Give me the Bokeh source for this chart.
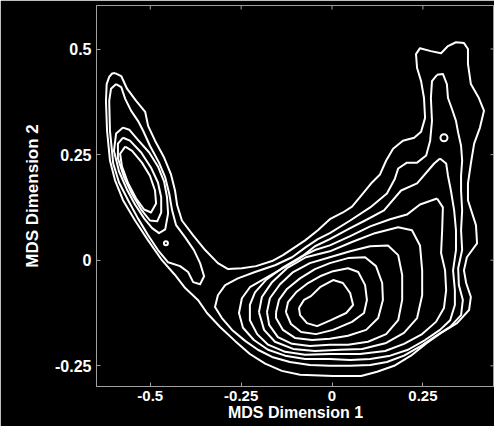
from bokeh.plotting import figure
from bokeh.models import FixedTicker
from bokeh.embed import file_html
from bokeh.resources import INLINE

# ---- data: contour lines (MDS dim 1, MDS dim 2) ----
outer_u = [(-0.597,0.443),(-0.580,0.436),(-0.564,0.406),(-0.539,0.377),(-0.514,0.351),(-0.506,0.318),
    (-0.487,0.283),(-0.462,0.243),(-0.443,0.203),(-0.432,0.165),(-0.426,0.130),(-0.413,0.094),(-0.382,0.059),
    (-0.349,0.024),(-0.314,-0.007),(-0.286,-0.021),(-0.248,-0.019),(-0.209,-0.014),(-0.165,-0.002),(-0.135,0.012),
    (-0.107,0.028),(-0.074,0.047),(-0.039,0.071),(-0.006,0.097),(0.030,0.113),(0.055,0.127),(0.083,0.156),
    (0.110,0.184),(0.132,0.203),(0.149,0.236),(0.168,0.264),(0.195,0.283),(0.226,0.290),(0.245,0.304),
    (0.256,0.337),(0.253,0.384),(0.245,0.424),(0.234,0.455),(0.231,0.488),(0.242,0.502),(0.272,0.495),
    (0.300,0.490),(0.319,0.507),(0.341,0.516),(0.363,0.514),(0.374,0.500),(0.374,0.465),(0.382,0.417),
    (0.404,0.384),(0.418,0.354),(0.407,0.314),(0.391,0.276),(0.382,0.229),(0.374,0.182),(0.374,0.142),
    (0.396,0.083),(0.399,0.040),(0.371,0.007),(0.363,-0.024),(0.369,-0.054),(0.382,-0.087),(0.377,-0.118),
    (0.344,-0.149),(0.300,-0.172),(0.261,-0.196),(0.217,-0.226),(0.171,-0.250),(0.124,-0.264),(0.080,-0.274),
    (0.003,-0.274),(-0.088,-0.271),(-0.138,-0.262),(-0.184,-0.245),(-0.226,-0.222),(-0.267,-0.191),
    (-0.308,-0.158),(-0.344,-0.125),(-0.369,-0.094),(-0.404,-0.066),(-0.432,-0.035),(-0.468,0.000),
    (-0.506,0.047),(-0.542,0.094),(-0.575,0.142),(-0.597,0.189),(-0.611,0.236),(-0.619,0.307),(-0.622,0.377),
    (-0.620,0.417),(-0.613,0.434),(-0.605,0.442),(-0.597,0.443)]

lobe_2 = [(-0.594,0.417),(-0.580,0.410),(-0.569,0.382),(-0.553,0.354),(-0.534,0.330),(-0.520,0.307),
    (-0.501,0.271),(-0.476,0.231),(-0.459,0.196),(-0.448,0.158),(-0.440,0.118),(-0.429,0.083),(-0.404,0.054),
    (-0.380,0.024),(-0.363,-0.007),(-0.352,-0.038),(-0.363,-0.057),(-0.382,-0.052),(-0.396,-0.028),
    (-0.418,-0.014),(-0.451,-0.005),(-0.479,0.024),(-0.506,0.059),(-0.534,0.099),(-0.561,0.142),(-0.586,0.184),
    (-0.602,0.229),(-0.611,0.307),(-0.613,0.377),(-0.608,0.406),(-0.594,0.417)]

lobe_3 = [(-0.575,0.314),(-0.558,0.309),(-0.534,0.285),(-0.503,0.255),(-0.479,0.222),(-0.462,0.186),
    (-0.454,0.149),(-0.451,0.111),(-0.459,0.073),(-0.476,0.064),(-0.495,0.076),(-0.517,0.099),(-0.542,0.132),
    (-0.564,0.167),(-0.586,0.210),(-0.600,0.259),(-0.594,0.300),(-0.575,0.314)]

lobe_4 = [(-0.575,0.290),(-0.556,0.283),(-0.525,0.255),(-0.498,0.219),(-0.479,0.184),(-0.470,0.149),
    (-0.470,0.113),(-0.481,0.092),(-0.501,0.094),(-0.525,0.120),(-0.550,0.156),(-0.572,0.196),(-0.589,0.241),
    (-0.589,0.276),(-0.575,0.290)]

lobe_5 = [(-0.569,0.269),(-0.550,0.259),(-0.523,0.231),(-0.501,0.200),(-0.487,0.165),(-0.484,0.134),
    (-0.498,0.113),(-0.517,0.120),(-0.539,0.146),(-0.561,0.182),(-0.578,0.222),(-0.583,0.252),(-0.569,0.269)]

body_1 = [(0.289,0.439),(0.305,0.441),(0.316,0.417),(0.319,0.384),(0.330,0.358),(0.341,0.330),(0.347,0.302),
    (0.355,0.271),(0.358,0.236),(0.355,0.200),(0.355,0.165),(0.358,0.118),(0.355,0.071),(0.358,0.024),
    (0.347,-0.019),(0.349,-0.059),(0.360,-0.094),(0.355,-0.130),(0.325,-0.158),(0.286,-0.179),(0.245,-0.203),
    (0.198,-0.226),(0.151,-0.241),(0.105,-0.248),(0.050,-0.250),(-0.006,-0.250),(-0.061,-0.248),(-0.116,-0.241),
    (-0.165,-0.229),(-0.204,-0.212),(-0.239,-0.191),(-0.275,-0.165),(-0.303,-0.137),(-0.322,-0.111),
    (-0.314,-0.083),(-0.294,-0.059),(-0.259,-0.043),(-0.212,-0.028),(-0.157,-0.012),(-0.110,0.007),
    (-0.072,0.031),(-0.039,0.050),(-0.006,0.064),(0.050,0.094),(0.105,0.125),(0.151,0.158),(0.173,0.193),
    (0.182,0.217),(0.206,0.231),(0.234,0.231),(0.259,0.248),(0.270,0.283),(0.275,0.330),(0.272,0.384),
    (0.275,0.424),(0.289,0.439)]

body_2 = [(0.297,0.241),(0.314,0.229),(0.319,0.200),(0.327,0.165),(0.336,0.118),(0.341,0.071),(0.341,0.024),
    (0.333,-0.024),(0.338,-0.071),(0.338,-0.106),(0.325,-0.142),(0.297,-0.165),(0.256,-0.189),(0.209,-0.212),
    (0.160,-0.226),(0.105,-0.234),(0.050,-0.236),(-0.006,-0.234),(-0.074,-0.234),(-0.129,-0.226),
    (-0.176,-0.212),(-0.215,-0.189),(-0.245,-0.160),(-0.256,-0.125),(-0.248,-0.090),(-0.226,-0.064),
    (-0.184,-0.043),(-0.135,-0.019),(-0.088,0.005),(-0.047,0.033),(-0.006,0.050),(0.050,0.076),(0.091,0.094),
    (0.143,0.118),(0.190,0.165),(0.234,0.182),(0.281,0.229),(0.297,0.241)]

body_3 = [(0.289,0.146),(0.305,0.125),(0.303,0.071),(0.300,0.017),(0.311,-0.024),(0.314,-0.071),
    (0.308,-0.113),(0.286,-0.146),(0.248,-0.175),(0.198,-0.198),(0.146,-0.215),(0.077,-0.222),(-0.006,-0.222),
    (-0.074,-0.224),(-0.129,-0.217),(-0.176,-0.200),(-0.206,-0.175),(-0.226,-0.142),(-0.226,-0.106),
    (-0.212,-0.076),(-0.182,-0.047),(-0.138,-0.019),(-0.088,0.007),(-0.047,0.024),(-0.006,0.035),
    (0.050,0.057),(0.105,0.080),(0.160,0.097),(0.206,0.108),(0.242,0.132),(0.289,0.146)]

body_4 = [(-0.201,-0.123),(-0.193,-0.087),(-0.165,-0.052),(-0.124,-0.019),(-0.072,0.007),(-0.006,0.021),
    (0.055,0.043),(0.118,0.064),(0.182,0.078),(0.220,0.071),(0.242,0.035),(0.248,-0.024),(0.248,-0.083),
    (0.234,-0.137),(0.198,-0.172),(0.149,-0.196),(0.083,-0.210),(0.022,-0.212),(-0.047,-0.215),
    (-0.107,-0.210),(-0.157,-0.193),(-0.187,-0.165),(-0.201,-0.123)]

body_5 = [(-0.179,-0.123),(-0.171,-0.090),(-0.143,-0.057),(-0.107,-0.028),(-0.061,-0.007),(-0.006,0.007),
    (0.050,0.021),(0.105,0.033),(0.154,0.035),(0.182,0.012),(0.193,-0.035),(0.193,-0.094),(0.182,-0.142),
    (0.149,-0.175),(0.099,-0.193),(0.044,-0.200),(-0.006,-0.200),(-0.061,-0.203),(-0.110,-0.198),
    (-0.149,-0.182),(-0.173,-0.153),(-0.179,-0.123)]

body_6 = [(-0.154,-0.123),(-0.146,-0.094),(-0.124,-0.068),(-0.088,-0.043),(-0.047,-0.021),(-0.006,-0.007),
    (0.044,0.005),(0.091,0.007),(0.121,-0.014),(0.138,-0.054),(0.140,-0.094),(0.127,-0.137),(0.094,-0.165),
    (0.044,-0.179),(-0.006,-0.186),(-0.055,-0.189),(-0.102,-0.184),(-0.135,-0.165),(-0.154,-0.137),
    (-0.154,-0.123)]

body_7 = [(-0.127,-0.123),(-0.121,-0.099),(-0.099,-0.076),(-0.066,-0.054),(-0.033,-0.038),(0.003,-0.026),
    (0.044,-0.019),(0.072,-0.028),(0.091,-0.059),(0.096,-0.094),(0.088,-0.125),(0.055,-0.146),(0.003,-0.165),
    (-0.044,-0.175),(-0.085,-0.170),(-0.113,-0.151),(-0.127,-0.123)]

body_8 = [(-0.091,-0.113),(-0.077,-0.094),(-0.058,-0.085),(-0.033,-0.064),(0.003,-0.047),(0.030,-0.054),
    (0.050,-0.078),(0.058,-0.106),(0.039,-0.125),(-0.003,-0.142),(-0.041,-0.156),(-0.069,-0.149),
    (-0.088,-0.130),(-0.091,-0.113)]

small_loops_x = [-0.457, 0.308]
small_loops_y = [0.040, 0.290]
small_loops_size = [4, 7]

x_ticks = [-0.5, -0.25, 0, 0.25]
x_tick_labels = ["-0.5", "-0.25", "0", "0.25"]
y_ticks = [-0.25, 0, 0.25, 0.5]
y_tick_labels = ["-0.25", "0", "0.25", "0.5"]

contours = [outer_u, lobe_2, lobe_3, lobe_4, lobe_5,
            body_1, body_2, body_3, body_4, body_5, body_6, body_7, body_8]

# ---- figure ----
FONT = "Liberation Sans"
AXIS_COLOR = "#a0a0a0"
X0, X1 = -0.648, 0.447
Y0, Y1 = -0.299, 0.603
W, H = 494, 426
BL, BR, BT, BB = 96, 0, 5, 40
TICK_PX = 4

p = figure(width=W, height=H, x_range=(X0, X1), y_range=(Y0, Y1),
           output_backend="svg", toolbar_location=None,
           min_border_left=BL, min_border_right=BR, min_border_top=BT, min_border_bottom=BB,
           background_fill_color="black", border_fill_color="black")
p.grid.visible = False
p.outline_line_color = AXIS_COLOR

for c in contours:
    p.line([pt[0] for pt in c], [pt[1] for pt in c], line_color="white", line_width=2,
           line_join="round")

p.scatter(small_loops_x, small_loops_y, size=small_loops_size, marker="circle",
          fill_color=None, line_color="white", line_width=2)

# inward ticks on the top and right edges of the box (mirrors of the bottom/left ticks)
dy = TICK_PX * (Y1 - Y0) / (H - BT - BB)
dx = TICK_PX * (X1 - X0) / (W - BL - BR)
p.segment(x0=x_ticks, y0=[Y1] * len(x_ticks), x1=x_ticks, y1=[Y1 - dy] * len(x_ticks),
          line_color=AXIS_COLOR, line_width=1)
p.segment(x0=[X1] * len(y_ticks), y0=y_ticks, x1=[X1 - dx] * len(y_ticks), y1=y_ticks,
          line_color=AXIS_COLOR, line_width=1)

def style_axis(ax, ticks, labels):
    ax.ticker = FixedTicker(ticks=ticks)
    ax.major_label_overrides = {t: l for t, l in zip(ticks, labels)}
    ax.axis_line_color = AXIS_COLOR
    ax.major_tick_line_color = AXIS_COLOR
    ax.major_tick_in = TICK_PX
    ax.major_tick_out = 0
    ax.minor_tick_line_color = None
    ax.major_label_text_color = "white"
    ax.major_label_text_font = FONT
    ax.major_label_text_font_style = "bold"
    ax.major_label_text_font_size = "15px"
    ax.axis_label_text_color = "white"
    ax.axis_label_text_font = FONT
    ax.axis_label_text_font_style = "bold"
    ax.axis_label_text_font_size = "16px"

xa = p.xaxis[0]
style_axis(xa, x_ticks, x_tick_labels)
xa.axis_label = "MDS Dimension 1"
xa.major_label_standoff = 4
xa.axis_label_standoff = 0

ya = p.yaxis[0]
style_axis(ya, y_ticks, y_tick_labels)
ya.major_label_text_font_size = "16px"
ya.axis_label_text_font_size = "17px"
ya.axis_label = "MDS Dimension 2"
ya.major_label_standoff = 5
ya.axis_label_standoff = 10

open("out.html", "w").write(file_html(p, INLINE))
